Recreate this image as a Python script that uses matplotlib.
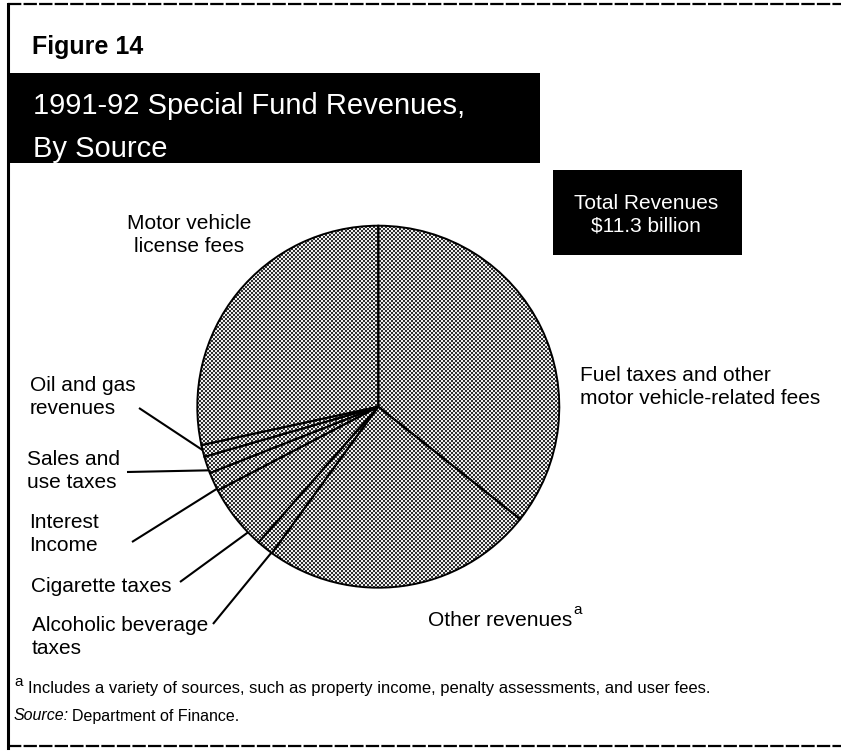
import numpy as np
import matplotlib
matplotlib.use("Agg")
import matplotlib.pyplot as plt
from matplotlib.patches import Rectangle, Circle

# 1991-92 special fund revenues by source, in millions of dollars
sources = ["Fuel taxes and other\nmotor vehicle-related fees", "Other revenues",
           "Alcoholic beverage\ntaxes", "Cigarette taxes", "Interest\nIncome",
           "Sales and\nuse taxes", "Oil and gas\nrevenues", "Motor vehicle\nlicense fees"]
revenues = [4030, 2750, 170, 660, 190, 170, 120, 3210]
total_label = "Total Revenues\n$11.3 billion"

FONT = ["Liberation Sans", "DejaVu Sans"]
plt.rcParams["font.family"] = FONT

W, H = 841, 752
fig = plt.figure(figsize=(W / 100, H / 100), dpi=100)
ax = fig.add_axes([0, 0, 1, 1])

cx, cy, r = 378.3, 406.7, 181

# pixel-style axes: y grows downward, so counterclock=True runs clockwise on screen
wedges, _ = ax.pie(revenues, startangle=-90, counterclock=True, center=(cx, cy),
                   radius=r, wedgeprops=dict(facecolor="none", edgecolor="black",
                                             linewidth=1.4), frame=True)
ax.set_xlim(0, W)
ax.set_ylim(H, 0)
ax.set_aspect("auto")
ax.axis("off")

# halftone screen behind the wedges
n = int(r) + 2
checker = (np.indices((n, n)).sum(axis=0) % 2).astype(float)
im = ax.imshow(checker, cmap="gray", vmin=-0.25, vmax=1.1, interpolation="nearest",
               extent=(cx - r, cx - r + 2 * n, cy - r + 2 * n, cy - r), zorder=0.5)
im.set_clip_path(Circle((cx, cy), r, transform=ax.transData))

# frame of the figure
ax.plot([8, 8], [4, 748], color="black", lw=2.2)
ax.plot([8, W], [4, 4], color="black", lw=1.6, ls=(0, (6, 1)))
ax.plot([8, W], [746, 746], color="black", lw=1.6, ls=(0, (6, 1)))

ax.text(32, 47, "Figure 14", fontsize=18, fontweight="bold", va="center", ha="left")
ax.add_patch(Rectangle((8, 73), 532, 90, facecolor="black", edgecolor="none"))
ax.text(33, 106, "1991-92 Special Fund Revenues,", color="white", fontsize=21,
        va="center", ha="left")
ax.text(33, 149, "By Source", color="white", fontsize=21, va="center", ha="left")

ax.add_patch(Rectangle((553, 170), 189, 85, facecolor="black", edgecolor="none"))
ax.text(646, 215, total_label, color="white", fontsize=15, ha="center", va="center",
        linespacing=1.25)

# screen angle (degrees, counterclockwise from +x) at each slice boundary, going clockwise
fracs = np.array(revenues) / sum(revenues)
edges = 90 - 360 * np.concatenate([[0], np.cumsum(fracs)])


def rim_point(i, f):
    # f = 0 at the slice's leading edge, 1 at its trailing edge
    a = np.deg2rad(edges[i] + f * (edges[i + 1] - edges[i]))
    return cx + r * np.cos(a), cy - r * np.sin(a)


lab = dict(fontsize=15, va="center", linespacing=1.3)
ax.text(189, 235, sources[7], ha="center", **lab)
ax.text(580, 387, sources[0], ha="left", **lab)
ax.text(428, 620, sources[1], ha="left", **lab)
ax.text(573, 610, "a", fontsize=11, ha="left", va="center")

# labels on the left with leader lines to their slices: (index, text xy, line start, spot in slice)
left_labels = [
    (6, (30, 397), (139, 408), 0.58),
    (5, (27, 471), (127, 472), 0.17),
    (4, (29, 534), (132, 542), 0.1),
    (3, (31, 586), (180, 582), 0.22),
    (2, (32, 637), (213, 624), 0.04),
]
for i, (tx, ty), (lx, ly), f in left_labels:
    ax.text(tx, ty, sources[i], ha="left", **lab)
    px, py = rim_point(i, f)
    ax.plot([lx, px], [ly, py], color="black", lw=1.5, solid_capstyle="butt")

ax.text(14, 682, "a", fontsize=11, va="center")
ax.text(28, 689, "Includes a variety of sources, such as property income, penalty "
        "assessments, and user fees.", fontsize=12, va="center")
ax.text(14, 716, "Source:", fontsize=11.5, style="italic", va="center")
ax.text(72, 716, "Department of Finance.", fontsize=11.5, va="center")

fig.savefig("out.png", dpi=100)
